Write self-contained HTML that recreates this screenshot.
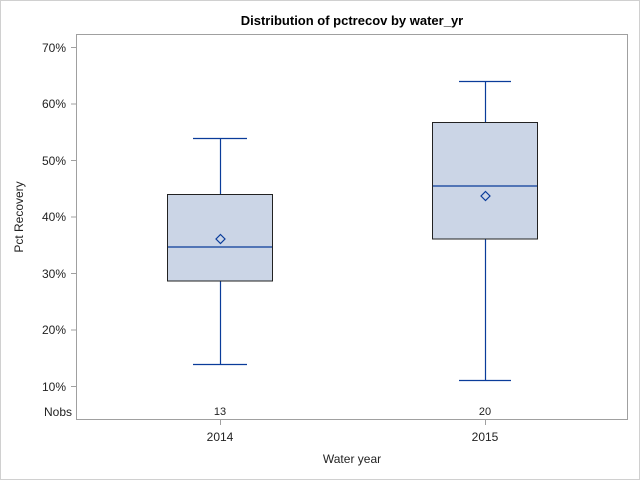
<!DOCTYPE html>
<html><head><style>body{margin:0;background:#fff}svg{display:block}</style></head><body>
<svg width="640" height="480" xmlns="http://www.w3.org/2000/svg" font-family="Liberation Sans, Arial, sans-serif">
<rect x="0.5" y="0.5" width="639" height="479" fill="#fff" stroke="#d0d0d0"/>
<text x="352" y="25" text-anchor="middle" font-size="13" font-weight="bold">Distribution of pctrecov by water_yr</text>
<rect x="76.5" y="34.5" width="551" height="385" fill="none" stroke="#a0a0a0"/>
<g stroke="#a0a0a0">
<line x1="71" x2="76" y1="47.5" y2="47.5"/><line x1="71" x2="76" y1="104" y2="104"/><line x1="71" x2="76" y1="160.5" y2="160.5"/><line x1="71" x2="76" y1="217" y2="217"/><line x1="71" x2="76" y1="273.5" y2="273.5"/><line x1="71" x2="76" y1="330" y2="330"/><line x1="71" x2="76" y1="386.5" y2="386.5"/>
<line x1="220.5" x2="220.5" y1="420" y2="425"/><line x1="485.5" x2="485.5" y1="420" y2="425"/>
</g>
<g font-size="12" text-anchor="end" fill="#222">
<text x="66" y="52">70%</text><text x="66" y="108">60%</text><text x="66" y="165">50%</text><text x="66" y="221">40%</text><text x="66" y="278">30%</text><text x="66" y="334">20%</text><text x="66" y="391">10%</text><text x="72" y="416">Nobs</text>
</g>
<g font-size="11" text-anchor="middle" fill="#222"><text x="220" y="415">13</text><text x="485" y="415">20</text></g>
<g font-size="12" text-anchor="middle" fill="#222"><text x="220" y="441">2014</text><text x="485" y="441">2015</text>
<text x="352" y="463">Water year</text>
<text transform="translate(23,217) rotate(-90)">Pct Recovery</text></g>
<g stroke="#0a3c9a" stroke-width="1.2" fill="none">
<line x1="193" x2="247" y1="138.5" y2="138.5"/><line x1="193" x2="247" y1="364.5" y2="364.5"/>
<line x1="220.5" x2="220.5" y1="138.5" y2="194"/><line x1="220.5" x2="220.5" y1="281" y2="364.5"/>
<line x1="459" x2="511" y1="81.5" y2="81.5"/><line x1="459" x2="511" y1="380.5" y2="380.5"/>
<line x1="485.5" x2="485.5" y1="81.5" y2="122"/><line x1="485.5" x2="485.5" y1="239" y2="380.5"/>
</g>
<rect x="167.5" y="194.5" width="105" height="86.5" fill="#cbd5e6" stroke="#222"/>
<rect x="432.5" y="122.5" width="105" height="116.5" fill="#cbd5e6" stroke="#222"/>
<g stroke="#0a3c9a" stroke-width="1.2" fill="none">
<line x1="168" x2="272" y1="247" y2="247"/><line x1="433" x2="537" y1="186" y2="186"/>
<polygon points="220.5,234.5 225,239 220.5,243.5 216,239"/>
<polygon points="485.5,191.5 490,196 485.5,200.5 481,196"/>
</g>
</svg>
</body></html>
